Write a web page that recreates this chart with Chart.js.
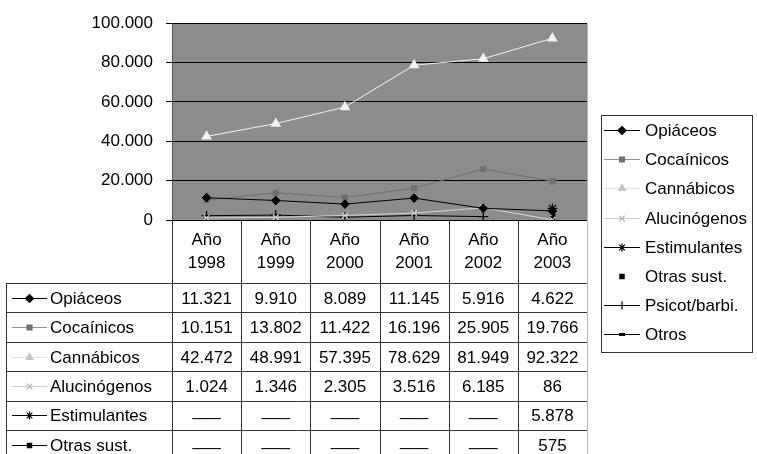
<!DOCTYPE html>
<html>
<head>
<meta charset="utf-8">
<script src="https://cdn.jsdelivr.net/npm/chart.js@4/dist/chart.umd.min.js"></script>
<style>
html,body{margin:0;padding:0;background:#fff;}
canvas{display:block;}
</style>
</head>
<body>
<canvas id="c" width="757" height="454"></canvas>
<script>
const years = ['1998', '1999', '2000', '2001', '2002', '2003'];
const yTicks = [0, 20000, 40000, 60000, 80000, 100000];
const seriesNames = ['Opiáceos', 'Cocaínicos', 'Cannábicos', 'Alucinógenos', 'Estimulantes', 'Otras sust.', 'Psicot/barbi.', 'Otros'];
const opiaceos     = [11321, 9910, 8089, 11145, 5916, 4622];
const cocainicos   = [10151, 13802, 11422, 16196, 25905, 19766];
const cannabicos   = [42472, 48991, 57395, 78629, 81949, 92322];
const alucinogenos = [1024, 1346, 2305, 3516, 6185, 86];
const estimulantes = [null, null, null, null, null, 5878];
const otrasSust    = [null, null, null, null, null, 575];
const psicot       = [2200, 2500, 1400, 2300, 1700, null];
const otros        = [null, null, null, null, null, 2500];

const FONT = '17px "Liberation Sans", Arial, sans-serif';

function ds(label, data, color, style, radius, showLine, keyLine, keyMark) {
  return {
    label, data,
    borderColor: color, backgroundColor: color,
    pointStyle: style, pointRadius: radius, pointHoverRadius: radius,
    pointBorderColor: color, pointBackgroundColor: color,
    borderWidth: 1, pointBorderWidth: style === 'dash' ? 3 : 1.2,
    showLine: showLine !== false, spanGaps: false, tension: 0,
    keyLine: keyLine || color, keyMark: keyMark || color
  };
}

const datasets = [
  ds(seriesNames[0], opiaceos, '#000000', 'rectRot', 4),
  ds(seriesNames[1], cocainicos, '#707070', 'rect', 3.5, true, '#909090', '#707070'),
  ds(seriesNames[2], cannabicos, '#f2f2f2', 'triangle', 5, true, '#e0e0e0', '#c4c4c4'),
  ds(seriesNames[3], alucinogenos, '#d4d4d4', 'crossRot', 4, true, '#cccccc', '#b0b0b0'),
  ds(seriesNames[4], estimulantes, '#000000', 'star', 5),
  ds(seriesNames[5], otrasSust, '#000000', 'rect', 3, false),
  ds(seriesNames[6], psicot, '#000000', 'cross', 5),
  ds(seriesNames[7], otros, '#000000', 'dash', 3)
];

function fmt(v) {
  return v.toString().replace(/\B(?=(\d{3})+(?!\d))/g, '.');
}

function drawKey(ctx, d, x0, x1, y, forceLine) {
  const H = Chart.helpers;
  const cx = (x0 + x1) / 2;
  if (d.showLine !== false || forceLine) {
    ctx.save();
    ctx.strokeStyle = d.keyLine;
    ctx.lineWidth = 1;
    ctx.beginPath();
    ctx.moveTo(x0, y + 0.5);
    ctx.lineTo(x1, y + 0.5);
    ctx.stroke();
    ctx.restore();
  }
  ctx.save();
  ctx.strokeStyle = d.keyMark;
  ctx.fillStyle = d.keyMark;
  if (d.pointStyle === 'dash') {
    ctx.fillRect(cx - 3, y - 1, 6, 3);
  } else {
    ctx.lineWidth = 1.2;
    H.drawPoint(ctx, {pointStyle: d.pointStyle, radius: Math.min(d.pointRadius, 4), rotation: 0, borderWidth: 1.2}, cx, y + 0.5);
  }
  ctx.restore();
}

const tablePlugin = {
  id: 'tablePlugin',
  beforeDraw(chart) {
    const {ctx, chartArea: a} = chart;
    ctx.save();
    ctx.fillStyle = '#8c8c8c';
    ctx.fillRect(a.left, a.top, a.right - a.left, a.bottom - a.top);
    ctx.restore();
  },
  afterDraw(chart) {
    const {ctx, chartArea: a} = chart;
    const xs = chart.scales.x;
    const n = years.length;
    const w = (a.right - a.left) / n;
    const bounds = [];
    for (let i = 0; i < n; i++) bounds.push(xs.getPixelForValue(i) - w / 2);
    bounds.push(xs.getPixelForValue(n - 1) + w / 2);

    ctx.save();
    ctx.strokeStyle = '#b8b8b8';
    ctx.lineWidth = 1;
    ctx.beginPath();
    ctx.moveTo(Math.round(a.right) + 0.5, a.top);
    ctx.lineTo(Math.round(a.right) + 0.5, 454);
    ctx.stroke();
    ctx.restore();

    const headTop = a.bottom;
    const rowTop = 283;
    const rowH = 29.4;
    const leftX = 6;

    ctx.save();
    ctx.strokeStyle = '#333';
    ctx.lineWidth = 1;
    ctx.beginPath();
    for (let i = 0; i < bounds.length - 1; i++) {
      const x = Math.round(bounds[i]) + 0.5;
      ctx.moveTo(x, headTop);
      ctx.lineTo(x, 454);
    }
    ctx.moveTo(leftX + 0.5, rowTop);
    ctx.lineTo(leftX + 0.5, 454);
    for (let r = 0; r <= seriesNames.length; r++) {
      const y = Math.round(rowTop + r * rowH) + 0.5;
      ctx.moveTo(leftX, y);
      ctx.lineTo(a.right, y);
    }
    ctx.stroke();

    ctx.fillStyle = '#000';
    ctx.font = FONT;
    ctx.textAlign = 'center';
    ctx.textBaseline = 'middle';
    for (let i = 0; i < n; i++) {
      const cx = xs.getPixelForValue(i);
      ctx.fillText('Año', cx, 240);
      ctx.fillText(years[i], cx, 263);
    }
    chart.data.datasets.forEach((d, r) => {
      const cy = Math.round(rowTop + r * rowH + rowH / 2);
      drawKey(ctx, d, 12, 47, cy, true);
      ctx.textAlign = 'left';
      ctx.fillStyle = '#000';
      ctx.font = FONT;
      ctx.fillText(d.label, 50, cy + 1);
      ctx.textAlign = 'center';
      for (let i = 0; i < n; i++) {
        const v = d.data[i];
        const cx = xs.getPixelForValue(i);
        ctx.fillText(v === null ? '___' : fmt(v), cx, v === null ? cy - 4 : cy + 1);
      }
    });
    ctx.restore();

    ctx.save();
    ctx.strokeStyle = '#333';
    ctx.lineWidth = 1;
    ctx.strokeRect(601.5, 115.5, 151, 237);
    ctx.font = FONT;
    ctx.textAlign = 'left';
    ctx.textBaseline = 'middle';
    chart.data.datasets.forEach((d, r) => {
      const cy = Math.round(130 + r * 29.2);
      drawKey(ctx, d, 604, 640, cy, false);
      ctx.fillStyle = '#000';
      ctx.fillText(d.label, 645, cy + 1);
    });
    ctx.restore();
  }
};

new Chart(document.getElementById('c'), {
  type: 'line',
  data: { labels: years.map(y => ['Año', y]), datasets },
  options: {
    responsive: false,
    devicePixelRatio: 1,
    animation: false,
    events: [],
    layout: { padding: { top: 22, right: 170, bottom: 234, left: 0 } },
    plugins: { legend: { display: false }, tooltip: { enabled: false } },
    scales: {
      x: { display: false, offset: true },
      y: {
        min: yTicks[0], max: yTicks[yTicks.length - 1],
        afterFit(s) { s.width = 172; },
        afterBuildTicks(s) { s.ticks = yTicks.map(v => ({value: v})); },
        border: { display: true, color: '#555', width: 1 },
        grid: { color: '#000', lineWidth: 1, tickLength: 6, drawTicks: true },
        ticks: {
          color: '#000', font: { family: '"Liberation Sans", Arial, sans-serif', size: 17 },
          padding: 13,
          callback: v => fmt(v)
        }
      }
    }
  },
  plugins: [tablePlugin]
});
</script>
</body>
</html>
